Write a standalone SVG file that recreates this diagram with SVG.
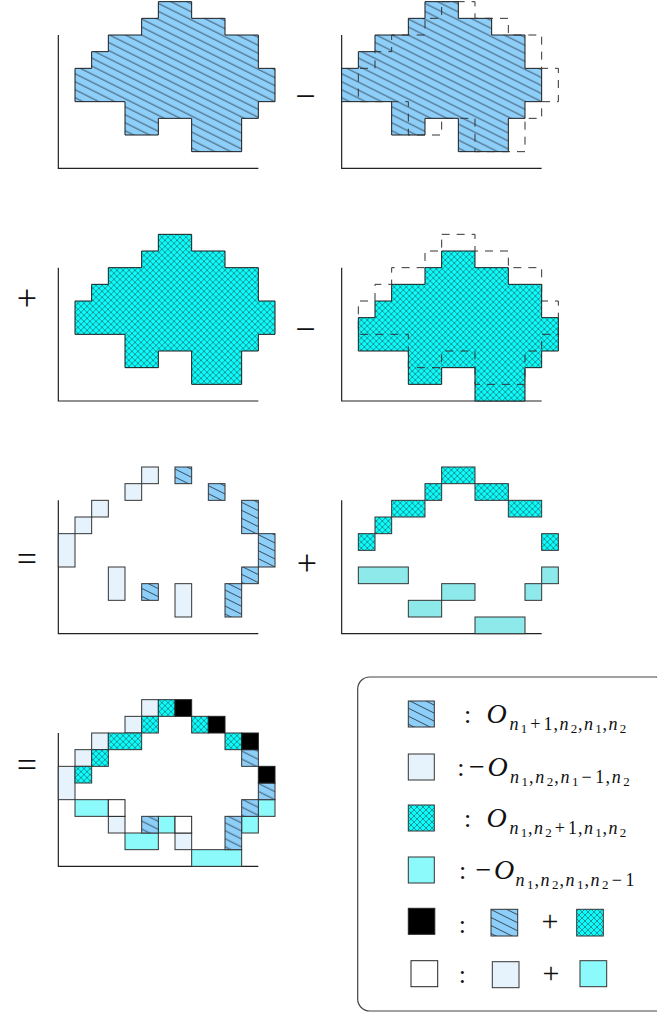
<svg xmlns="http://www.w3.org/2000/svg" xmlns:xlink="http://www.w3.org/1999/xlink" width="657" height="1015" viewBox="0 0 657 1015">
<style>
.t{font-family:"Liberation Serif","Times New Roman",serif;fill:#111}
.i{font-style:italic}
.m{font-size:26px}
.o{font-size:28px}
.s{font-size:18px}
.ss{font-size:13px}
.op{font-size:36px}
.ax{fill:none;stroke:#222;stroke-width:1.2}
.hf{fill:url(#hatch);stroke:#1a1a1a;stroke-width:1}
.xf{fill:url(#cross);stroke:#1a1a1a;stroke-width:1}
.dash{fill:none;stroke:#333;stroke-width:1;stroke-dasharray:8 7}
.L{fill:#e6f3fc;stroke:#333;stroke-width:1}
.H{fill:url(#hatch);stroke:#333;stroke-width:1}
.X{fill:url(#cross);stroke:#333;stroke-width:1}
.C6{fill:#8eeaea;stroke:#333;stroke-width:1}
.C{fill:#8cfafa;stroke:#333;stroke-width:1}
.B{fill:#000;stroke:#222;stroke-width:1}
.W{fill:#fff;stroke:#222;stroke-width:1}
</style>
<defs>
<pattern id="hatch" patternUnits="userSpaceOnUse" width="16" height="8">
<rect width="16" height="8" fill="#8ecffa"/>
<path d="M-2,-1 L18,9 M-2,7 L2,9 M14,-1 L18,1" stroke="#26303a" stroke-width="0.85" fill="none"/>
</pattern>
<pattern id="cross" patternUnits="userSpaceOnUse" width="6" height="6">
<rect width="6" height="6" fill="#0cfcfc"/>
<path d="M-1,-1 L7,7 M7,-1 L-1,7" stroke="#1f5252" stroke-width="0.6" fill="none"/>
</pattern>
<path id="shapeA" d="M83.33,0 H116.67 V16.67 H150 V33.33 H183.33 V66.67 H200 V100 H183.33 V116.67 H166.67 V150 H116.67 V116.67 H83.33 V133.33 H50 V100 H0 V66.67 H16.67 V50 H33.33 V33.33 H66.67 V16.67 H83.33 Z"/>
<path id="axes" d="M-16.67,33.33 V166.67 H183.33"/>
</defs>

<g id="panel1" transform="translate(75,1.67)">
<use href="#axes" class="ax"/>
<use href="#shapeA" class="hf"/>
</g>

<g id="panel2" transform="translate(358.33,1.67)">
<use href="#axes" class="ax"/>
<use href="#shapeA" class="hf" x="-16.67"/>
<use href="#shapeA" class="dash"/>
</g>

<g id="panel3" transform="translate(75,234.33)">
<use href="#axes" class="ax"/>
<use href="#shapeA" class="xf"/>
</g>

<g id="panel4" transform="translate(358.33,234.33)">
<use href="#axes" class="ax"/>
<use href="#shapeA" class="xf" y="16.67"/>
<use href="#shapeA" class="dash"/>
</g>

<g id="panel5" transform="translate(75,467)">
<use href="#axes" class="ax"/>
<rect class="L" x="66.67" y="0" width="16.67" height="16.67"/>
<rect class="L" x="50" y="16.67" width="16.67" height="16.67"/>
<rect class="L" x="16.67" y="33.33" width="16.67" height="16.67"/>
<rect class="L" x="0" y="50" width="16.67" height="16.67"/>
<rect class="L" x="-16.67" y="66.67" width="16.67" height="33.33"/>
<rect class="L" x="33.33" y="100" width="16.67" height="33.33"/>
<rect class="L" x="100" y="116.67" width="16.67" height="33.33"/>
<rect class="H" x="100" y="0" width="16.67" height="16.67"/>
<rect class="H" x="133.33" y="16.67" width="16.67" height="16.67"/>
<rect class="H" x="166.67" y="33.33" width="16.67" height="33.33"/>
<rect class="H" x="183.33" y="66.67" width="16.67" height="33.33"/>
<rect class="H" x="166.67" y="100" width="16.67" height="16.67"/>
<rect class="H" x="66.67" y="116.67" width="16.67" height="16.67"/>
<rect class="H" x="150" y="116.67" width="16.67" height="33.33"/>
</g>

<g id="panel6" transform="translate(358.33,467)">
<use href="#axes" class="ax"/>
<rect class="X" x="0" y="66.67" width="16.67" height="16.67"/>
<rect class="X" x="16.67" y="50" width="16.67" height="16.67"/>
<rect class="X" x="33.33" y="33.33" width="33.33" height="16.67"/>
<rect class="X" x="66.67" y="16.67" width="16.67" height="16.67"/>
<rect class="X" x="83.33" y="0" width="33.33" height="16.67"/>
<rect class="X" x="116.67" y="16.67" width="33.33" height="16.67"/>
<rect class="X" x="150" y="33.33" width="33.33" height="16.67"/>
<rect class="X" x="183.33" y="66.67" width="16.67" height="16.67"/>
<rect class="C6" x="0" y="100" width="50" height="16.67"/>
<rect class="C6" x="50" y="133.33" width="33.33" height="16.67"/>
<rect class="C6" x="83.33" y="116.67" width="33.33" height="16.67"/>
<rect class="C6" x="116.67" y="150" width="50" height="16.67"/>
<rect class="C6" x="166.67" y="116.67" width="16.67" height="16.67"/>
<rect class="C6" x="183.33" y="100" width="16.67" height="16.67"/>
</g>

<g id="panel7" transform="translate(75,699.67)">
<use href="#axes" class="ax"/>
<rect class="L" x="66.67" y="0" width="16.67" height="16.67"/>
<rect class="L" x="50" y="16.67" width="16.67" height="16.67"/>
<rect class="L" x="16.67" y="33.33" width="16.67" height="16.67"/>
<rect class="L" x="0" y="50" width="16.67" height="16.67"/>
<rect class="L" x="-16.67" y="66.67" width="16.67" height="33.33"/>
<rect class="L" x="33.33" y="116.67" width="16.67" height="16.67"/>
<rect class="L" x="100" y="133.33" width="16.67" height="16.67"/>
<rect class="C" x="0" y="100" width="33.33" height="16.67"/>
<rect class="C" x="50" y="133.33" width="33.33" height="16.67"/>
<rect class="C" x="83.33" y="116.67" width="16.67" height="16.67"/>
<rect class="C" x="116.67" y="150" width="50" height="16.67"/>
<rect class="C" x="166.67" y="116.67" width="16.67" height="16.67"/>
<rect class="C" x="183.33" y="100" width="16.67" height="16.67"/>
<rect class="H" x="166.67" y="50" width="16.67" height="16.67"/>
<rect class="H" x="183.33" y="83.33" width="16.67" height="16.67"/>
<rect class="H" x="166.67" y="100" width="16.67" height="16.67"/>
<rect class="H" x="66.67" y="116.67" width="16.67" height="16.67"/>
<rect class="H" x="150" y="116.67" width="16.67" height="33.33"/>
<rect class="X" x="0" y="66.67" width="16.67" height="16.67"/>
<rect class="X" x="16.67" y="50" width="16.67" height="16.67"/>
<rect class="X" x="33.33" y="33.33" width="33.33" height="16.67"/>
<rect class="X" x="66.67" y="16.67" width="16.67" height="16.67"/>
<rect class="X" x="83.33" y="0" width="16.67" height="16.67"/>
<rect class="X" x="116.67" y="16.67" width="16.67" height="16.67"/>
<rect class="X" x="150" y="33.33" width="16.67" height="16.67"/>
<rect class="B" x="100" y="0" width="16.67" height="16.67"/>
<rect class="B" x="133.33" y="16.67" width="16.67" height="16.67"/>
<rect class="B" x="166.67" y="33.33" width="16.67" height="16.67"/>
<rect class="B" x="183.33" y="66.67" width="16.67" height="16.67"/>
<rect class="W" x="33.33" y="100" width="16.67" height="16.67"/>
<rect class="W" x="100" y="116.67" width="16.67" height="16.67"/>
</g>

<g id="operators" class="t op">
<text x="295.3" y="108">−</text>
<text x="16.85" y="310">+</text>
<text x="295.3" y="341">−</text>
<text x="16.85" y="571">=</text>
<text x="296.85" y="575">+</text>
<text x="16.85" y="777">=</text>
</g>

<g id="legend">
<rect x="357.7" y="677" width="310" height="334" rx="12" ry="12" fill="#fff" stroke="#444" stroke-width="1.2"/>
<rect class="H" x="408.3" y="701" width="26" height="26"/>
<rect class="L" x="408.3" y="754" width="26" height="26"/>
<rect class="X" x="408.3" y="805" width="26" height="26"/>
<rect class="C" x="408.3" y="857" width="26" height="26"/>
<rect class="B" x="408.3" y="908.3" width="26.5" height="26"/>
<rect class="H" x="491" y="909.3" width="26.7" height="26.7"/>
<rect class="X" x="576.7" y="909.3" width="26.6" height="26.7"/>
<rect class="W" x="411" y="960.7" width="26.7" height="26"/>
<rect class="L" x="492.3" y="961.7" width="26.7" height="26"/>
<rect class="C" x="580" y="960.7" width="26.7" height="26"/>

<text class="t m" x="464" y="722.5">:</text>
<text class="t o i" x="486.5" y="722.5">O</text>
<text class="t s"><tspan class="i" x="509.5" y="730">n</tspan><tspan class="ss" x="520.7" y="732.5">1</tspan><tspan x="530.2" y="730">+</tspan><tspan x="543.5" y="730">1</tspan><tspan x="553.5" y="730">,</tspan><tspan class="i" x="559.5" y="730">n</tspan><tspan class="ss" x="570.7" y="732.5">2</tspan><tspan x="578" y="730">,</tspan><tspan class="i" x="584" y="730">n</tspan><tspan class="ss" x="595.2" y="732.5">1</tspan><tspan x="602.5" y="730">,</tspan><tspan class="i" x="608.6" y="730">n</tspan><tspan class="ss" x="619.7" y="732.5">2</tspan></text>

<text class="t m" x="457.2" y="775.5">:</text>
<text class="t o" x="469" y="775.5">−</text>
<text class="t o i" x="487.5" y="775.5">O</text>
<text class="t s"><tspan class="i" x="510" y="783">n</tspan><tspan class="ss" x="521.5" y="785.5">1</tspan><tspan x="529" y="783">,</tspan><tspan class="i" x="535.2" y="783">n</tspan><tspan class="ss" x="546.7" y="785.5">2</tspan><tspan x="554.2" y="783">,</tspan><tspan class="i" x="560.4" y="783">n</tspan><tspan class="ss" x="571.9" y="785.5">1</tspan><tspan x="581.6" y="783">−</tspan><tspan x="595.3" y="783">1</tspan><tspan x="605.5" y="783">,</tspan><tspan class="i" x="611.7" y="783">n</tspan><tspan class="ss" x="623.2" y="785.5">2</tspan></text>

<text class="t m" x="464" y="826.5">:</text>
<text class="t o i" x="486.5" y="826.5">O</text>
<text class="t s"><tspan class="i" x="509.5" y="834">n</tspan><tspan class="ss" x="520.7" y="836.5">1</tspan><tspan x="528" y="834">,</tspan><tspan class="i" x="534" y="834">n</tspan><tspan class="ss" x="545.2" y="836.5">2</tspan><tspan x="554.7" y="834">+</tspan><tspan x="568" y="834">1</tspan><tspan x="578" y="834">,</tspan><tspan class="i" x="584" y="834">n</tspan><tspan class="ss" x="595.2" y="836.5">1</tspan><tspan x="602.5" y="834">,</tspan><tspan class="i" x="608.6" y="834">n</tspan><tspan class="ss" x="619.7" y="836.5">2</tspan></text>

<text class="t m" x="458.9" y="878.5">:</text>
<text class="t o" x="475.5" y="878.5">−</text>
<text class="t o i" x="494" y="878.5">O</text>
<text class="t s"><tspan class="i" x="515.5" y="886">n</tspan><tspan class="ss" x="526.9" y="888.5">1</tspan><tspan x="534.4" y="886">,</tspan><tspan class="i" x="540.6" y="886">n</tspan><tspan class="ss" x="552" y="888.5">2</tspan><tspan x="559.4" y="886">,</tspan><tspan class="i" x="565.6" y="886">n</tspan><tspan class="ss" x="577" y="888.5">1</tspan><tspan x="584.5" y="886">,</tspan><tspan class="i" x="590.6" y="886">n</tspan><tspan class="ss" x="602.1" y="888.5">2</tspan><tspan x="611.7" y="886">−</tspan><tspan x="625.4" y="886">1</tspan></text>

<text class="t m" x="458.7" y="933">:</text>
<text class="t" style="font-size:30px" x="541.5" y="930.6">+</text>
<text class="t m" x="458.7" y="983">:</text>
<text class="t" style="font-size:30px" x="542.5" y="982.6">+</text>
</g>
</svg>
